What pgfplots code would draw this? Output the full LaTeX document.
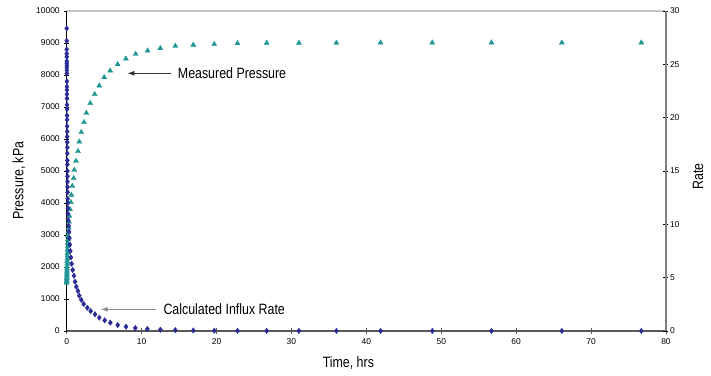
\documentclass[border=0pt]{standalone}
\usepackage{fontspec}
\setmainfont{Liberation Sans}[FakeStretch=0.83]
\newfontfamily\tickfont{Liberation Sans}
\usepackage{pgfplots}
\pgfplotsset{compat=1.18}
\usetikzlibrary{arrows.meta}
\definecolor{pcol}{RGB}{32,150,148}
\definecolor{dblue}{RGB}{44,44,150}
\begin{document}
\begin{tikzpicture}
\path[use as bounding box] (-66.7bp,-45bp) rectangle (644.3bp,331bp);
\pgfplotsset{
  common/.style={
    scale only axis, width=599.3bp, height=320bp,
    xmin=0, xmax=80, clip=false,
    tick align=center, major tick length=5bp,
    tick label style={font=\tickfont\fontsize{8.5}{10}\selectfont},
    /pgf/number format/assume math mode=true,
    /pgf/number format/set thousands separator={},
    scaled y ticks=false,
  }
}
\begin{axis}[common,
  ymin=0, ymax=10000,
  axis x line*=bottom, axis y line*=left,
  xtick={0,10,...,80}, ytick={0,1000,...,10000},
  x axis line style={black!65, line width=1.2bp},
  y axis line style={black, line width=1bp},
  xtick style={black!65, line width=0.8bp},
  ytick style={black, line width=0.8bp},
  xticklabel style={yshift=-2bp},
  yticklabel style={xshift=-1bp},
]
\draw[black!22, line width=1.5bp] (rel axis cs:0,1) -- (rel axis cs:1,1);
\addplot[only marks, mark=triangle*, mark size=2.9bp, color=pcol] table {
t P
0.000 1500
0.005 1550
0.010 1600
0.015 1650
0.020 1700
0.025 1760
0.030 1820
0.035 1880
0.040 1950
0.050 2020
0.060 2100
0.070 2180
0.080 2260
0.090 2350
0.100 2440
0.110 2540
0.125 2640
0.140 2750
0.160 2860
0.180 2980
0.210 3100
0.270 3228
0.310 3416
0.360 3594
0.440 3803
0.570 4022
0.630 4250
0.750 4531
0.930 4772
1.010 5031
1.240 5312
1.510 5616
1.680 5916
1.950 6210
2.310 6522
2.630 6812
3.150 7116
3.740 7397
4.350 7666
5.000 7928
5.800 8134
6.800 8334
7.900 8510
9.200 8656
10.80 8760
12.50 8834
14.50 8906
16.90 8940
19.70 8960
22.80 8990
26.70 9000
31.00 9000
36.00 9005
41.90 9010
48.80 9010
56.70 9010
66.10 9010
76.70 9010
};
\draw[-{Latex[length=7bp,width=5bp]}, black!80, line width=1bp] (axis cs:13.93,8053) -- (axis cs:8.09,8053);
\node[anchor=west, inner sep=0pt, font=\fontsize{15}{17}\selectfont] at (axis cs:14.82,8053) {Measured Pressure};
\draw[-{Latex[length=7bp,width=5bp]}, black!45, line width=1bp] (axis cs:11.92,678) -- (axis cs:4.54,678);
\node[anchor=west, inner sep=0pt, font=\fontsize{15}{17}\selectfont] at (axis cs:12.9,678) {Calculated Influx Rate};
\node[font=\fontsize{15}{17}\selectfont] at ([yshift=-32bp]axis cs:37.6,0) {Time, hrs};
\node[rotate=90, font=\fontsize{15}{17}\selectfont] at ([xshift=-47.7bp]rel axis cs:0,0.47) {Pressure, kPa};
\end{axis}
\begin{axis}[common,
  ymin=0, ymax=30,
  axis x line=none, axis y line*=right,
  xtick=\empty, ytick={0,5,...,30},
  y axis line style={black!50, line width=1.5bp},
  ytick style={black, line width=0.8bp},
  yticklabel style={xshift=-2bp},
]
\addplot[only marks, mark=diamond*, mark size=2.7bp, color=dblue] table {
t r
0.000 28.37
0.002 27.2
0.004 26.4
0.006 26.0
0.008 25.7
0.010 25.3
0.012 25.1
0.014 24.9
0.016 24.7
0.018 24.45
0.020 24.15
0.023 23.4
0.026 22.9
0.029 22.6
0.032 22.2
0.035 21.8
0.039 21.2
0.043 20.8
0.047 20.2
0.051 19.8
0.055 19.2
0.060 18.7
0.065 18.2
0.070 17.7
0.075 17.2
0.080 16.65
0.086 16.0
0.092 15.6
0.098 15.0
0.104 14.5
0.110 14.0
0.118 13.5
0.126 13.0
0.134 12.4
0.143 12.0
0.152 11.5
0.165 11.0
0.21 10.4
0.27 9.87
0.31 9.3
0.36 8.7
0.42 8.1
0.48 7.5
0.56 6.9
0.66 6.3
0.80 5.72
0.97 5.18
1.11 4.62
1.28 4.15
1.51 3.75
1.68 3.31
1.95 2.91
2.27 2.53
2.75 2.18
3.20 1.87
3.78 1.57
4.35 1.25
5.07 1.00
5.82 0.78
6.81 0.56
7.92 0.40
9.16 0.28
10.76 0.19
12.5 0.12
14.5 0.08
16.9 0.05
19.7 0.03
22.8 0.02
26.7 0.015
31.0 0.01
36.0 0.01
41.9 0.01
48.8 0.005
56.7 0.005
66.1 0.005
76.7 0.005
};
\node[rotate=90, font=\fontsize{15}{17}\selectfont] at ([xshift=32bp]rel axis cs:1,0.483) {Rate};
\end{axis}
\end{tikzpicture}
\end{document}
